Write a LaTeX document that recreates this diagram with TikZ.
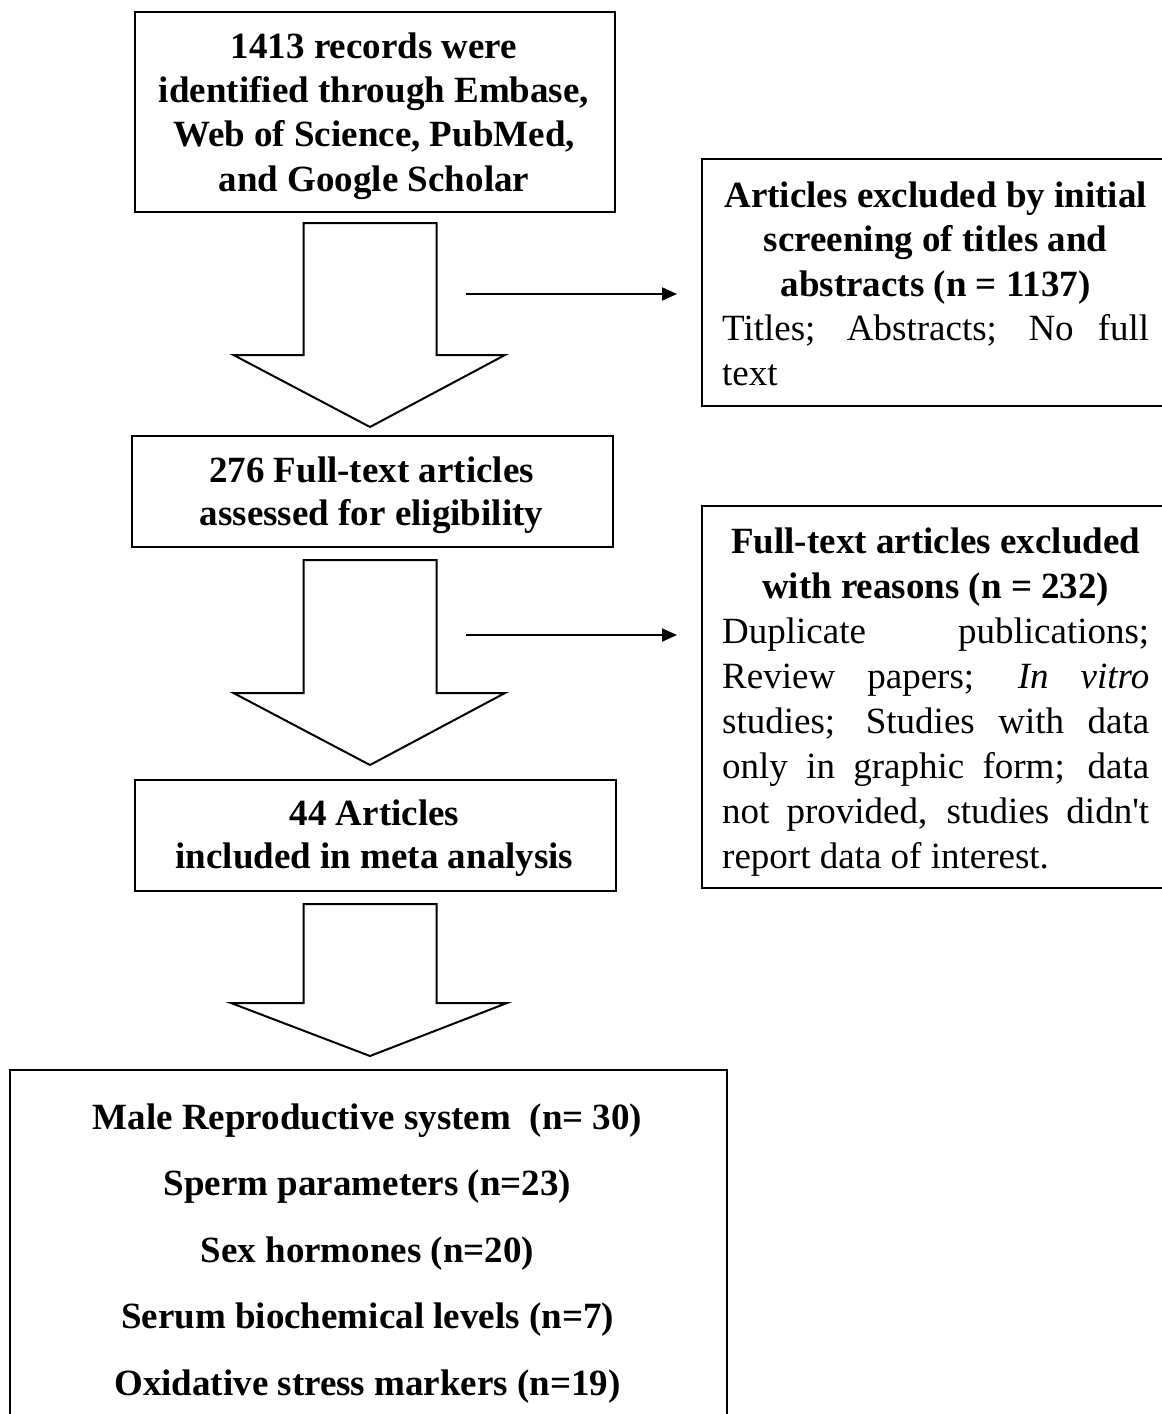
\documentclass[tikz,border=0pt]{standalone}
\usepackage{fontspec}
\setmainfont{Liberation Serif}
\usetikzlibrary{arrows.meta}
\newcommand\topstrut{\rule{0pt}{30pt}}
\begin{document}
\begin{tikzpicture}[x=1pt,y=-1pt,
  box/.style={draw, line width=2pt, inner sep=0pt, anchor=north west},
  txt/.style={inner sep=0pt, anchor=north, align=center},
  rtxt/.style={inner sep=0pt, anchor=north west, text width=427pt, align=justify},
  fat/.style={draw, line width=2pt, fill=white, line join=miter},
  thin/.style={line width=2pt, -{Triangle[length=15pt,width=13pt]}, shorten >=24pt}]
\useasboundingbox[fill=white] (0,0) rectangle (1162,1414);
% left boxes
\node[box, minimum width=480pt, minimum height=200pt] (b1) at (134,11) {};
\node[box, minimum width=481pt, minimum height=111pt] (b2) at (131,435) {};
\node[box, minimum width=481pt, minimum height=111pt] (b3) at (134,779) {};
\node[box, minimum width=717pt, minimum height=380pt] (b4) at (9,1069) {};
% right boxes
\node[box, minimum width=469pt, minimum height=247pt] (r1) at (701,158) {};
\node[box, minimum width=469pt, minimum height=382pt] (r2) at (701,505) {};
% texts
\node[txt, font={\bfseries\fontsize{37}{44.3}\selectfont}] (t1) at (374,28) {\topstrut 1413 records were\\ identified through Embase,\\ Web of Science, PubMed,\\ and Google Scholar};
\node[txt, font={\bfseries\fontsize{37}{43.5}\selectfont}] (t2) at (371.5,452) {\topstrut 276 Full-text articles\\ assessed for eligibility};
\node[txt, font={\bfseries\fontsize{37}{43.5}\selectfont}] (t3) at (374.5,795) {\topstrut 44 Articles\\ included in meta analysis};
\node[txt, font={\bfseries\fontsize{37}{66.5}\selectfont}] (t4) at (367.5,1099) {\topstrut Male Reproductive system\ \ (n= 30)\\ Sperm parameters (n=23)\\ Sex hormones (n=20)\\ Serum biochemical levels (n=7)\\ Oxidative stress markers (n=19)};
\node[rtxt, font={\fontsize{37}{44.5}\selectfont}] (t5) at (722,177) {%
  {\bfseries\centering\topstrut Articles excluded by initial\par screening of titles and\par abstracts (n = 1137)\par}%
  Titles; Abstracts; No full\linebreak text};
\node[rtxt, font={\fontsize{37}{45}\selectfont}] (t6) at (722,523) {%
  {\bfseries\centering\topstrut Full-text articles excluded\par with reasons (n = 232)\par}%
  Duplicate publications;\linebreak Review papers; \textit{In vitro}\linebreak studies; Studies with data\linebreak only in graphic form; data\linebreak not provided, studies didn\textquotesingle t\linebreak report data of interest.};
% fat arrows
\draw[fat] (303.5,223) -- (436.5,223) -- (436.5,355) -- (505,355) -- (370,427) -- (233.5,355) -- (303.5,355) -- cycle;
\draw[fat] (303.5,560) -- (436.5,560) -- (436.5,693) -- (505,693) -- (370,765) -- (233.5,693) -- (303.5,693) -- cycle;
\draw[fat] (303.5,904) -- (436.5,904) -- (436.5,1003) -- (507,1003) -- (370,1056) -- (231,1003) -- (303.5,1003) -- cycle;
% thin arrows
\coordinate (s1) at (466,294);
\coordinate (s2) at (466,635);
\draw[thin] (s1) -- (s1 -| r1.west);
\draw[thin] (s2) -- (s2 -| r2.west);
\end{tikzpicture}
\end{document}
